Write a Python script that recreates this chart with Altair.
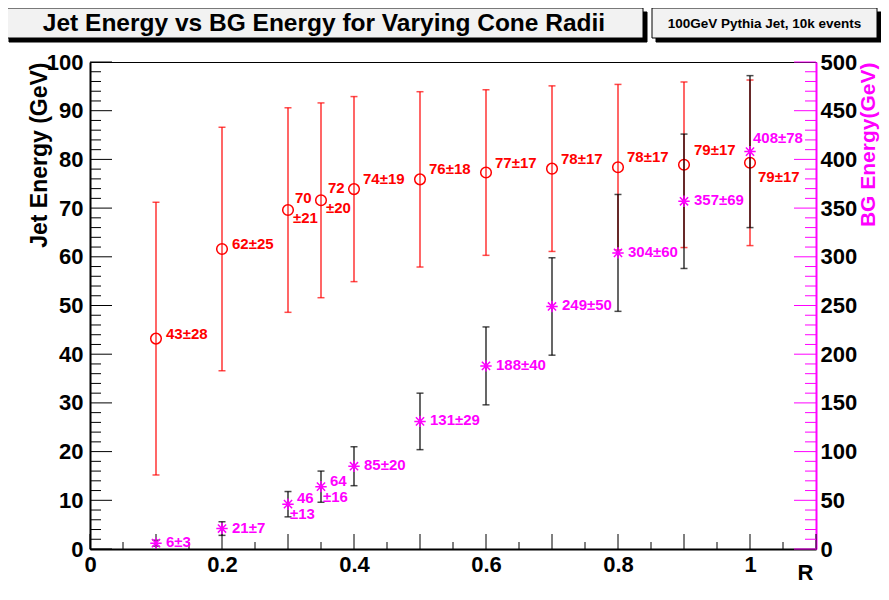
import altair as alt
import pandas as pd

# ---------------- data ----------------
R = [0.1, 0.2, 0.3, 0.35, 0.4, 0.5, 0.6, 0.7, 0.8, 0.9, 1.0]
jet_mean = [43.2, 61.6, 69.6, 71.6, 73.9, 75.9, 77.3, 78.1, 78.4, 78.9, 79.3]
jet_err = [28, 25, 21, 20, 19, 18, 17, 17, 17, 17, 17]
bg_mean = [6, 21, 46, 64, 85, 131, 188, 249, 304, 357, 408]
bg_err = [3, 7, 13, 16, 20, 29, 40, 50, 60, 69, 78]

x_label_values = [0, 0.2, 0.4, 0.6, 0.8, 1.0]
jet_label_values = list(range(0, 101, 10))
bg_label_values = list(range(0, 501, 50))

TITLE = "Jet Energy vs BG Energy for Varying Cone Radii"
SUBTITLE = "100GeV Pythia Jet, 10k events"
WRAP = [0.3, 0.35]

FONT = "Liberation Sans"
RED = "#ff0000"
MAG = "#ff00ff"
W, H = 726, 487

df = pd.DataFrame({"R": R, "jet": jet_mean, "jet_err": jet_err,
                   "bg": bg_mean, "bg_err": bg_err})
df["jet_lo"] = df.jet - df.jet_err
df["jet_hi"] = df.jet + df.jet_err
df["bg_lo"] = df.bg - df.bg_err
df["bg_hi"] = df.bg + df.bg_err
df["jet_val"] = [f"{v:.0f}" for v in jet_mean]
df["jet_pm"] = [f"\u00b1{e}" for e in jet_err]
df["jet_label"] = df.jet_val + df.jet_pm
df["bg_val"] = [f"{v:.0f}" for v in bg_mean]
df["bg_pm"] = [f"\u00b1{e}" for e in bg_err]
df["bg_label"] = df.bg_val + df.bg_pm

# tick data (inward ticks, ROOT style)
left_major = pd.DataFrame({"v": list(range(0, 101, 10))})
left_minor = pd.DataFrame({"v": [v for v in range(0, 101, 2) if v % 10]})
right_major = pd.DataFrame({"v": list(range(0, 501, 50))})
right_minor = pd.DataFrame({"v": [v for v in range(0, 501, 10) if v % 50]})
bot_major = pd.DataFrame({"v": [round(i * 0.1, 2) for i in range(12)]})
bot_minor = pd.DataFrame({"v": [round(i * 0.1 + 0.05, 2) for i in range(11)]})

# ---------------- scales / axes ----------------
xscale = alt.Scale(domain=[0, 1.1], nice=False, zero=False)
jscale = alt.Scale(domain=[0, 100], nice=False)
bscale = alt.Scale(domain=[0, 500], nice=False)

x_axis = alt.Axis(values=x_label_values, format="~g", title="R",
                  labelFontSize=22, labelFontWeight="bold", labelFont=FONT,
                  labelPadding=5, labelColor="black", ticks=False, labelFlush=False,
                  domainColor="black", domainWidth=2, grid=False,
                  titleFontSize=22, titleFont=FONT, titleFontWeight="bold",
                  titleColor="black", titleX=723, titleY=30, titleAlign="right",
                  titleBaseline="alphabetic")
j_axis = alt.Axis(values=jet_label_values, orient="left", title="Jet Energy (GeV)",
                  labelFontSize=22, labelFontWeight="bold", labelFont=FONT,
                  labelPadding=7, labelColor="black", ticks=False, labelFlush=False,
                  domainColor="black", domainWidth=2, grid=False,
                  titleFontSize=23, titleFont=FONT, titleFontWeight="bold",
                  titleColor="black", titleX=-51, titleY=0, titleAngle=270,
                  titleAlign="right", titleBaseline="middle")
b_axis = alt.Axis(values=bg_label_values, orient="right", title="BG Energy(GeV)",
                  labelFontSize=22, labelFontWeight="bold", labelFont=FONT,
                  labelPadding=4, labelColor="black", ticks=False, labelFlush=False,
                  domainColor=MAG, domainWidth=2, grid=False,
                  titleFontSize=21, titleFont=FONT, titleFontWeight="bold",
                  titleColor=MAG, titleX=52, titleY=0, titleAngle=270,
                  titleAlign="right", titleBaseline="middle")


def X(f):
    return alt.X(f"{f}:Q", scale=xscale, axis=x_axis)


def YJ(f):
    return alt.Y(f"{f}:Q", scale=jscale, axis=j_axis)


def YB(f):
    return alt.Y(f"{f}:Q", scale=bscale, axis=b_axis)


base = alt.Chart(df)
one = alt.Data(values=[{"k": 1}])


# ---------------- decorations ----------------
def box(x1, x2, y1, y2, fill, stroke):
    return alt.Chart(one).mark_rect(fill=fill, stroke=stroke, strokeWidth=1).encode(
        x=alt.value(x1), x2=alt.value(x2), y=alt.value(y1), y2=alt.value(y2))


title_layers = [
    box(-81, 557, -50, -20, "black", "black"),
    box(-85, 553, -54, -24, "#f2f2f2", "black"),
    box(566, 791, -50, -20, "black", "black"),
    box(562, 787, -54, -24, "#f2f2f2", "black"),
    alt.Chart(one).mark_text(text=TITLE, font=FONT, fontSize=24.5, fontWeight="bold",
                             color="black", align="center", baseline="middle").encode(
        x=alt.value(234), y=alt.value(-38)),
    alt.Chart(one).mark_text(text=SUBTITLE, font=FONT, fontSize=13.5, fontWeight="bold",
                             color="black", align="center", baseline="middle").encode(
        x=alt.value(674.5), y=alt.value(-38)),
]

# ---------------- axis ticks ----------------
tick_layers_j = [
    alt.Chart(bot_major).mark_rule(color="black", strokeWidth=1).encode(
        x=X("v"), y=alt.value(H), y2=alt.value(H - 15)),
    alt.Chart(bot_minor).mark_rule(color="black", strokeWidth=1).encode(
        x=X("v"), y=alt.value(H), y2=alt.value(H - 7)),
    alt.Chart(left_major).mark_rule(color="black", strokeWidth=1).encode(
        y=YJ("v"), x=alt.value(0), x2=alt.value(22)),
    alt.Chart(left_minor).mark_rule(color="black", strokeWidth=1).encode(
        y=YJ("v"), x=alt.value(0), x2=alt.value(11)),
]
tick_layers_b = [
    alt.Chart(right_major).mark_rule(color=MAG, strokeWidth=1).encode(
        y=YB("v"), x=alt.value(W - 22), x2=alt.value(W)),
    alt.Chart(right_minor).mark_rule(color=MAG, strokeWidth=1).encode(
        y=YB("v"), x=alt.value(W - 11), x2=alt.value(W)),
]

# ---------------- jet series ----------------
jet_bars = base.mark_rule(color=RED, strokeWidth=1.2).encode(
    x=X("R"), y=YJ("jet_lo"), y2="jet_hi")
jet_cap_lo = base.mark_tick(color=RED, orient="horizontal", size=7, thickness=1.5).encode(
    x=X("R"), y=YJ("jet_lo"))
jet_cap_hi = base.mark_tick(color=RED, orient="horizontal", size=7, thickness=1.5).encode(
    x=X("R"), y=YJ("jet_hi"))
jet_pts = base.mark_point(shape="circle", size=113, filled=False, color=RED,
                          strokeWidth=1.5, opacity=1).encode(x=X("R"), y=YJ("jet"))


def txt(rs, field, yenc, color, dx, dy):
    return base.transform_filter(alt.FieldOneOfPredicate(field="R", oneOf=rs)).mark_text(
        align="left", baseline="middle", dx=dx, dy=dy, font=FONT, fontSize=15,
        fontWeight="bold", color=color).encode(
        x=X("R"), y=yenc, text=f"{field}:N")


jet_texts = [
    txt([0.1, 0.2], "jet_label", YJ("jet"), RED, 10, -5),
    txt([0.4, 0.5, 0.6, 0.7, 0.8], "jet_label", YJ("jet"), RED, 9, -10),
    txt([0.9], "jet_label", YJ("jet"), RED, 10, -15),
    txt([1.0], "jet_label", YJ("jet"), RED, 8, 14),
    txt(WRAP, "jet_val", YJ("jet"), RED, 7, -12),
    txt(WRAP, "jet_pm", YJ("jet"), RED, 5, 8),
]

# ---------------- BG series ----------------
bg_bars = base.mark_rule(color="black", strokeWidth=1.2).encode(
    x=X("R"), y=YB("bg_lo"), y2="bg_hi")
bg_cap_lo = base.mark_tick(color="black", orient="horizontal", size=7, thickness=1.5).encode(
    x=X("R"), y=YB("bg_lo"))
bg_cap_hi = base.mark_tick(color="black", orient="horizontal", size=7, thickness=1.5).encode(
    x=X("R"), y=YB("bg_hi"))
STAR = "M-1,0L1,0M0,-1L0,1M-0.72,-0.72L0.72,0.72M-0.72,0.72L0.72,-0.72"
bg_pts = base.mark_point(shape=STAR, size=130, filled=False, color=MAG,
                         strokeWidth=1.5, opacity=1).encode(x=X("R"), y=YB("bg"))

bg_texts = [
    txt([0.1, 0.2, 0.4, 0.5, 0.6, 0.7, 0.8, 0.9], "bg_label", YB("bg"), MAG, 10, -1),
    txt([1.0], "bg_label", YB("bg"), MAG, 3, -14),
    txt(WRAP, "bg_val", YB("bg"), MAG, 9, -6),
    txt(WRAP, "bg_pm", YB("bg"), MAG, 2, 10),
]

group_j = alt.layer(*title_layers, *tick_layers_j, jet_bars, jet_cap_lo, jet_cap_hi,
                    jet_pts, *jet_texts)
group_b = alt.layer(*tick_layers_b, bg_bars, bg_cap_lo, bg_cap_hi, bg_pts, *bg_texts)

chart = alt.layer(group_j, group_b).resolve_scale(y="independent").properties(
    width=W, height=H,
    padding={"left": 82, "top": 54, "right": 65, "bottom": 37},
    autosize=alt.AutoSizeParams(type="none"),
    background="white",
).configure_view(stroke="black", strokeWidth=1).configure_axis(grid=False)

chart.save("out.html", embed_options={"renderer": "svg", "actions": False})
